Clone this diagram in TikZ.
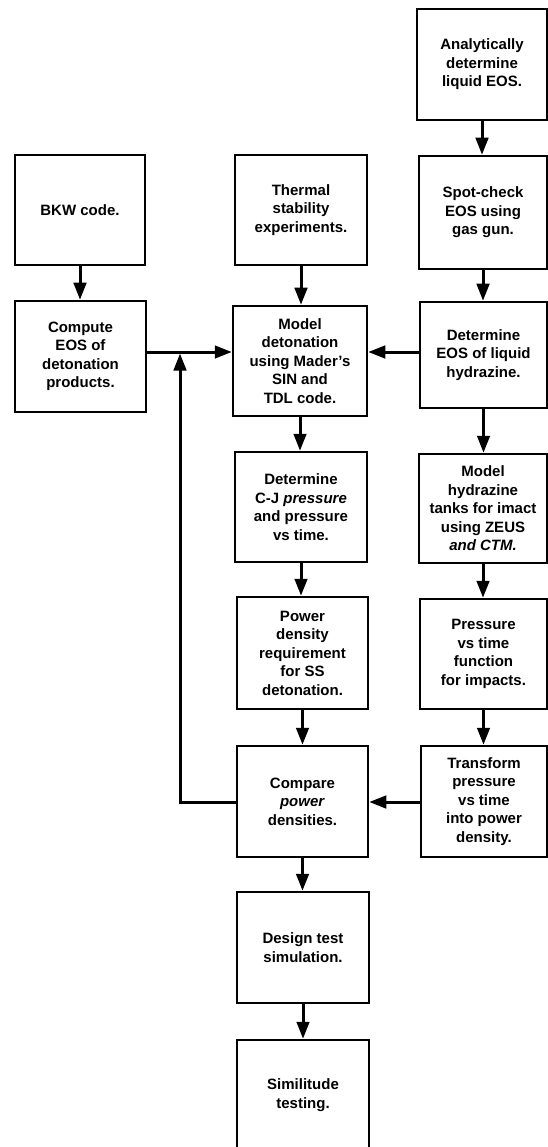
\documentclass[tikz,border=0pt]{standalone}
\usepackage{fontspec}
\setmainfont{Liberation Sans}
\usetikzlibrary{arrows.meta}
\newcommand\flowbox[6]{%
  \node[fbox, minimum width={#4pt-#2pt}, minimum height={#5pt-#3pt}] (#1)
    at ({(#2+#4)/2},{-(#3+#5)/2}) {#6};}
\begin{document}
\begin{tikzpicture}[x=1pt,y=1pt,
  fbox/.style={draw, line width=2.5pt, align=center, inner sep=0pt,
    font=\bfseries\fontsize{15}{18.5}\selectfont},
  conn/.style={line width=3pt, -{Triangle[length=17pt,width=12.5pt]}},
  plain/.style={line width=3pt}]
\useasboundingbox[fill=white] (0,0) rectangle (548,-1147);
\flowbox{ana}{417}{9}{547}{120}{Analytically\\determine\\liquid EOS.}
\flowbox{spot}{419}{156}{547}{269}{Spot-check\\EOS using\\gas gun.}
\flowbox{bkw}{15}{155}{145}{265}{BKW code.}
\flowbox{therm}{235}{155}{367}{265}{Thermal\\stability\\experiments.}
\flowbox{comp}{15}{301}{146}{412}{Compute\\EOS of\\detonation\\products.}
\flowbox{model}{233}{306}{367}{416}{Model\\detonation\\using Mader's\\SIN and\\TDL code.}
\flowbox{deteos}{420}{302}{547}{408}{Determine\\EOS of liquid\\hydrazine.}
\flowbox{cj}{235}{452}{367}{562}{Determine\\C-J \textit{pressure}\\and pressure\\vs time.}
\flowbox{mht}{419}{454}{547}{563}{Model\\hydrazine\\tanks for imact\\using ZEUS\\\textit{and CTM.}}
\flowbox{pow}{237}{597}{368}{709}{Power\\density\\requirement\\for SS\\detonation.}
\flowbox{pvt}{420}{599}{547}{709}{Pressure\\vs time\\function\\for impacts.}
\flowbox{cmp}{237}{746}{368}{857}{Compare\\\textit{power}\\densities.}
\flowbox{trans}{421}{746}{547}{857}{Transform\\pressure\\vs time\\into power\\density.}
\flowbox{design}{237}{892}{369}{1003}{Design test\\simulation.}
\flowbox{sim}{237}{1040}{369}{1150}{Similitude\\testing.}
\coordinate (j) at (180,-352);
\coordinate (fb) at (180,-802);
% vertical arrows
\draw[conn] (ana.south) -- (ana.south |- spot.north);
\draw[conn] (spot.south) -- (spot.south |- deteos.north);
\draw[conn] (deteos.south) -- (deteos.south |- mht.north);
\draw[conn] (mht.south) -- (mht.south |- pvt.north);
\draw[conn] (pvt.south) -- (pvt.south |- trans.north);
\draw[conn] (bkw.south) -- (bkw.south |- comp.north);
\draw[conn] (therm.south) -- (therm.south |- model.north);
\draw[conn] (model.south) -- (model.south |- cj.north);
\draw[conn] (cj.south) -- (cj.south |- pow.north);
\draw[conn] (pow.south) -- (pow.south |- cmp.north);
\draw[conn] (cmp.south) -- (cmp.south |- design.north);
\draw[conn] (design.south) -- (design.south |- sim.north);
% horizontal arrows
\draw[conn] (comp.east |- j) -- (model.west |- j);
\draw[conn] (deteos.west |- j) -- (model.east |- j);
\draw[conn] (trans.west |- fb) -- (cmp.east |- fb);
\draw[conn] (cmp.west |- fb) -- (fb) -- ([yshift=-1.5pt]j);
\end{tikzpicture}
\end{document}
